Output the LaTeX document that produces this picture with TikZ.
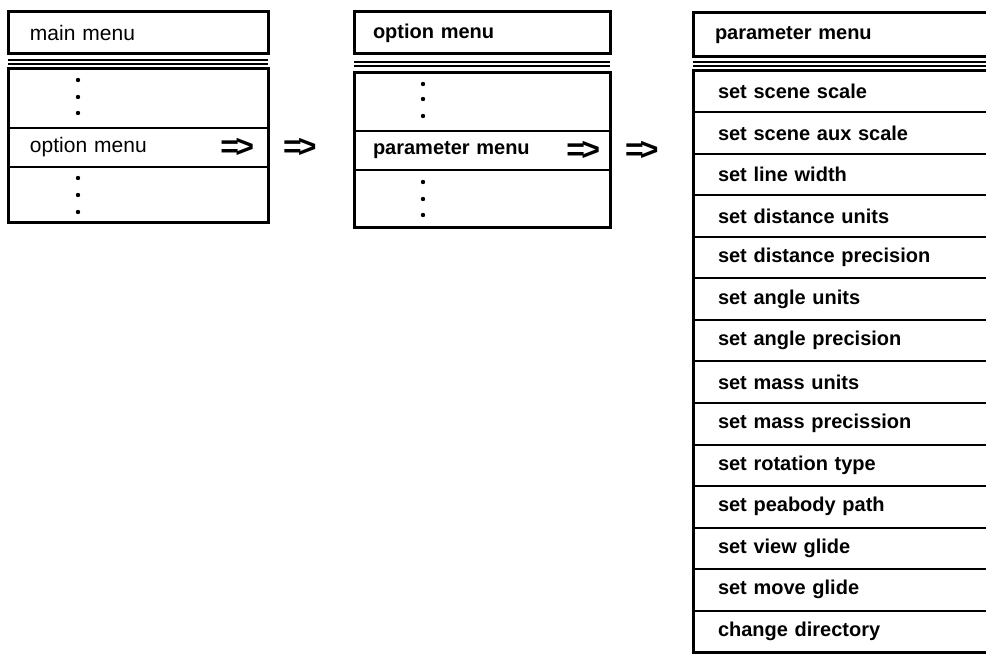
\documentclass[tikz,border=0pt]{standalone}
\usepackage{fontspec}
\setmainfont{Liberation Sans}
\usetikzlibrary{positioning}

\begin{document}
\begin{tikzpicture}[x=1pt, y=-1pt,
    every node/.style={font=\fontsize{21}{25}\selectfont, outer sep=0pt},
    menubox/.style={draw, line width=2pt, inner ysep=0pt, align=left, anchor=north west},
    boldtext/.style={font=\fontsize{20}{24}\selectfont\bfseries},
    goto/.style={font=\fontsize{32}{32}\selectfont\bfseries, inner sep=0pt}]
    \useasboundingbox (0,0) rectangle (986,660);
    \clip (0,0) rectangle (986,660);

    % main menu
    \node[menubox, line width=3pt, inner xsep=22pt, text width=216pt, minimum height=42pt] (mainT) at (8,12) {main menu};
    \draw[line width=2pt] ([yshift=-6pt]mainT.south west) -- ([yshift=-6pt]mainT.south east)
                          ([yshift=-10pt]mainT.south west) -- ([yshift=-10pt]mainT.south east);
    \node[menubox, inner xsep=22pt, text width=216pt, minimum height=59pt] (mainA) at (8,69) {};
    \node[menubox, inner xsep=22pt, text width=216pt, minimum height=39pt, below=0pt of mainA] (mainB) {option menu};
    \node[menubox, inner xsep=22pt, text width=216pt, minimum height=56pt, below=0pt of mainB] (mainC) {};
    \draw[line width=3pt] (mainA.north west) rectangle (mainC.south east);
    \foreach \y in {80,97,113,178,195,212}
        \fill (78,\y) circle (2.2pt);
    \node[goto, left=14pt of mainB.east] (mainGo) {=\kern-.12em>};
    \node[goto, right=15pt of mainB] (step1) {=\kern-.12em>};

    % option menu
    \node[menubox, boldtext, line width=3pt, inner xsep=19pt, text width=218pt, minimum height=42pt] (optT) at (354,12) {option menu};
    \draw[line width=2pt] ([yshift=-8pt]optT.south west) -- ([yshift=-8pt]optT.south east)
                          ([yshift=-12pt]optT.south west) -- ([yshift=-12pt]optT.south east);
    \node[menubox, inner xsep=19pt, text width=218pt, minimum height=58pt] (optA) at (354,73) {};
    \node[menubox, boldtext, inner xsep=19pt, text width=218pt, minimum height=39pt, below=0pt of optA] (optB) {parameter menu};
    \node[menubox, inner xsep=19pt, text width=218pt, minimum height=58pt, below=0pt of optB] (optC) {};
    \draw[line width=3pt] (optA.north west) rectangle (optC.south east);
    \foreach \y in {84,99,116,182,199,215}
        \fill (423,\y) circle (2.2pt);
    \node[goto, left=10pt of optB.east] (optGo) {=\kern-.12em>};
    \node[goto, right=15pt of optB] (step2) {=\kern-.12em>};

    % parameter menu
    \node[menubox, boldtext, line width=3pt, inner xsep=22pt, text width=263pt, minimum height=44pt] (parT) at (693,13) {parameter menu};
    \draw[line width=2pt] ([yshift=-5pt]parT.south west) -- ([yshift=-5pt]parT.south east)
                          ([yshift=-9pt]parT.south west) -- ([yshift=-9pt]parT.south east);
    \foreach \txt [count=\i] in {set scene scale, set scene aux scale, set line width,
        set distance units, set distance precision, set angle units, set angle precision,
        set mass units, set mass precission, set rotation type, set peabody path,
        set view glide, set move glide, change directory}
        \node[menubox, boldtext, inner xsep=25pt, text width=257pt, minimum height=41.5pt] (par\i) at (693,{71+41.5*(\i-1)}) {\txt};
    \draw[line width=3pt] (par1.north west) rectangle (par14.south east);
\end{tikzpicture}
\end{document}
